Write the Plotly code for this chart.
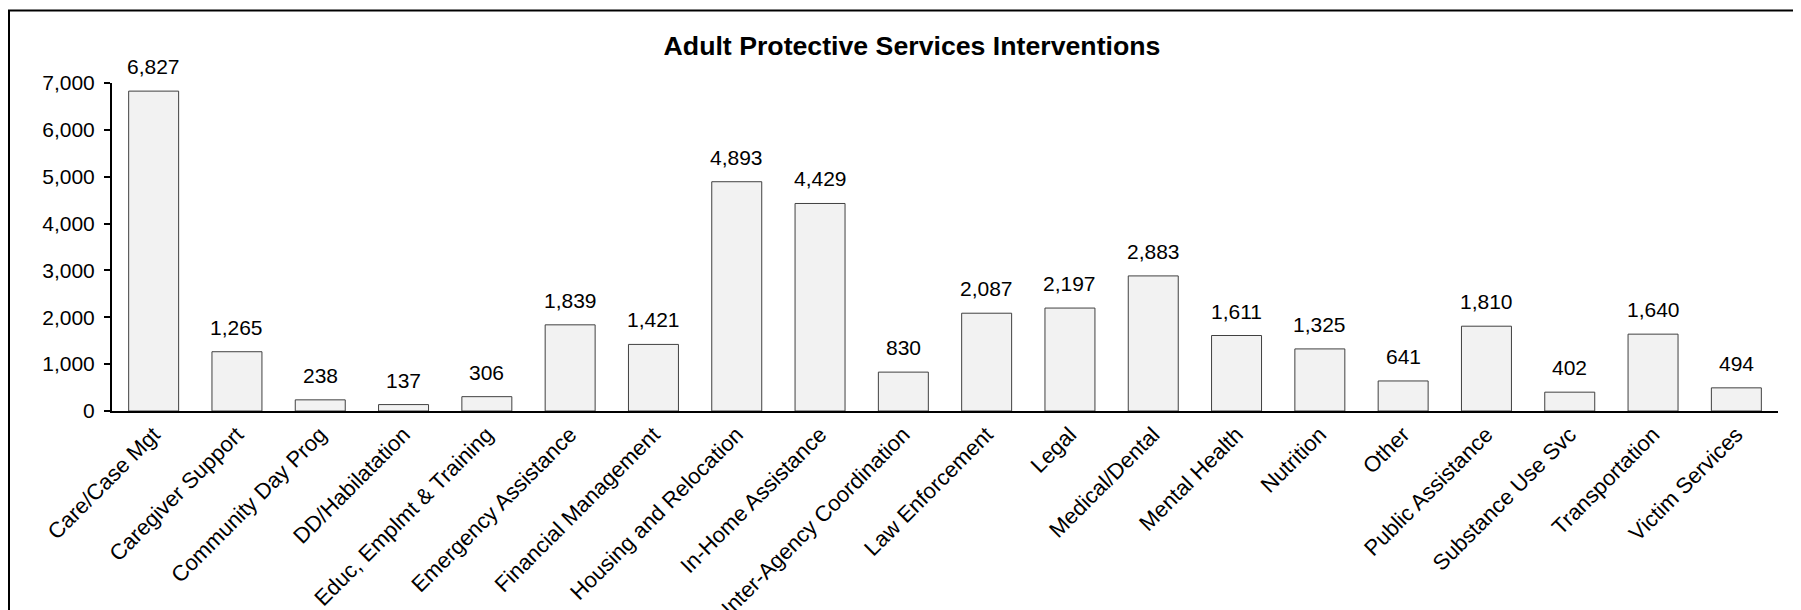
import plotly.graph_objects as go

categories = ["Care/Case Mgt", "Caregiver Support", "Community Day Prog", "DD/Habilatation",
              "Educ, Emplmt & Training", "Emergency Assistance", "Financial Management",
              "Housing and Relocation", "In-Home Assistance", "Inter-Agency Coordination",
              "Law Enforcement", "Legal", "Medical/Dental", "Mental Health", "Nutrition",
              "Other", "Public Assistance", "Substance Use Svc", "Transportation", "Victim Services"]
values = [6827, 1265, 238, 137, 306, 1839, 1421, 4893, 4429, 830,
          2087, 2197, 2883, 1611, 1325, 641, 1810, 402, 1640, 494]
y_ticks = [0, 1000, 2000, 3000, 4000, 5000, 6000, 7000]

FONT = "Arial, Liberation Sans, sans-serif"
FS = 21
W, H = 1801, 610
L, R, T, B = 104, 31, 75, 207
pw, ph = W - L - R, H - T - B

fig = go.Figure()
fig.add_trace(go.Bar(
    x=categories, y=values,
    marker=dict(color="#F2F2F2", line=dict(color="#404040", width=1)),
    hoverinfo="x+y",
))

for c, v in zip(categories, values):
    fig.add_annotation(x=c, y=v, text=f"{v:,}", showarrow=False, yanchor="bottom",
                       yshift=11, font=dict(family=FONT, size=FS, color="#000000"))

fig.add_shape(type="rect", xref="paper", yref="paper",
              x0=(1 - L) / pw, x1=(W + 20 - L) / pw,
              y0=(H - B - (H + 20)) / ph, y1=(H - B - 2.5) / ph,
              line=dict(color="#000000", width=2), fillcolor="rgba(0,0,0,0)", layer="above")

fig.update_layout(
    width=W, height=H,
    margin=dict(l=L, r=R, t=T, b=B, pad=0, autoexpand=False),
    paper_bgcolor="white", plot_bgcolor="white",
    bargap=0.4,
    showlegend=False,
    font=dict(family=FONT, size=FS, color="#000000"),
    title=dict(text="<b>Adult Protective Services Interventions</b>",
               xref="container", yref="container", x=904 / W, y=1 - 38 / H,
               xanchor="center", yanchor="middle",
               font=dict(family=FONT, size=26.7, color="#000000")),
    xaxis=dict(type="category", tickangle=-45, showline=True, linecolor="#000000", linewidth=2,
               ticks="", showgrid=False, automargin=False,
               tickfont=dict(family=FONT, size=22, color="#000000")),
    yaxis=dict(range=[0, 7000], tickvals=y_ticks, ticktext=[f"{t:,}" for t in y_ticks],
               showline=True, linecolor="#000000", linewidth=2, ticks="outside", ticklen=6,
               tickwidth=2, tickcolor="#000000", showgrid=False, zeroline=False, automargin=False,
               ticklabelstandoff=5,
               tickfont=dict(family=FONT, size=FS, color="#000000")),
)

fig.write_html("out.html")
